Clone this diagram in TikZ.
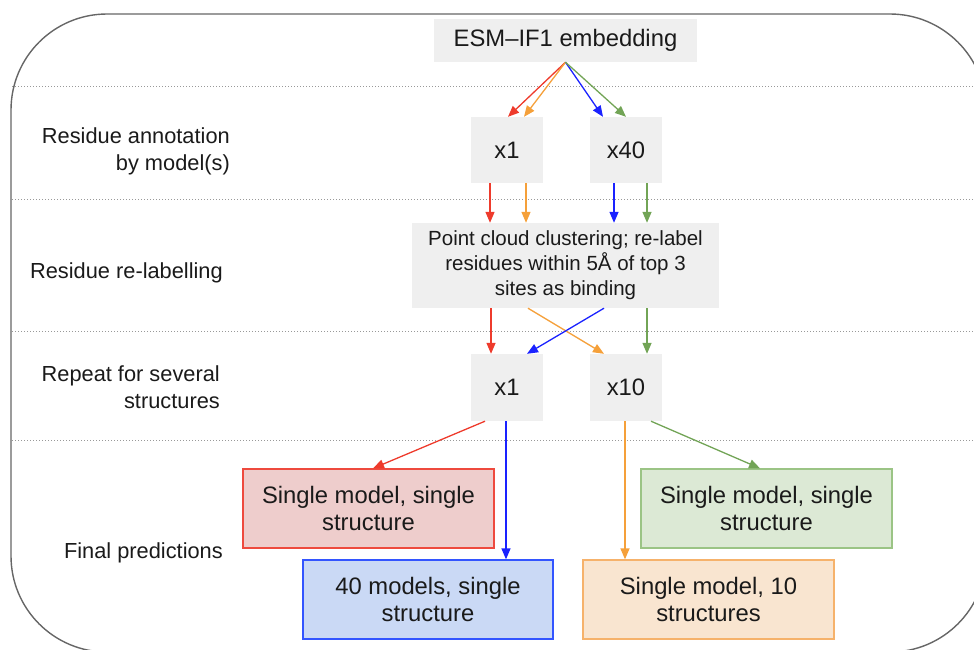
\documentclass[tikz,border=0pt]{standalone}
\usepackage{fontspec}
\setmainfont{Liberation Sans}
\usetikzlibrary{arrows.meta,calc}

\definecolor{boxgray}{HTML}{EFEFEF}
\definecolor{txt}{HTML}{1A1A1A}
\definecolor{frame}{HTML}{666666}
\definecolor{sep}{HTML}{999999}
\definecolor{redln}{HTML}{EE3B2C}
\definecolor{orgln}{HTML}{F5A03A}
\definecolor{bluln}{HTML}{1A22FF}
\definecolor{grnln}{HTML}{72A456}
\definecolor{redfill}{HTML}{EECDCC}
\definecolor{redbd}{HTML}{EE4A3E}
\definecolor{blufill}{HTML}{CAD9F5}
\definecolor{blubd}{HTML}{3355FF}
\definecolor{grnfill}{HTML}{DCE9D5}
\definecolor{grnbd}{HTML}{9BC485}
\definecolor{orgfill}{HTML}{F9E5D0}
\definecolor{orgbd}{HTML}{F6B26B}

\tikzset{
  graybox/.style={fill=boxgray, inner sep=0pt, align=center, text=txt,
    font=\fontsize{23.8}{26.5}\selectfont},
  resbox/.style={draw, line width=1.3pt, inner sep=0pt, align=center, text=txt,
    minimum width=251pt, minimum height=79pt, font=\fontsize{23.8}{26.5}\selectfont},
  sidelabel/.style={anchor=east, align=right, inner sep=0pt, text=txt,
    font=\fontsize{21.8}{27}\selectfont},
  conn/.style={line width=1.3pt, -{Triangle[length=11pt,width=9pt]}},
  sepline/.style={sep, line width=1pt, dash pattern=on 1pt off 2pt},
}

\begin{document}
\begin{tikzpicture}[x=1pt, y=-1pt]
  \useasboundingbox (0,0) rectangle (974,649);

  % outer frame, partly cut off at the right and bottom
  \begin{scope}
    \clip (0,0) rectangle (974,649);
    \draw[frame, line width=1.4pt, rounded corners=96pt] (11,14) rectangle (986,652);
  \end{scope}

  % row separators
  \foreach \yy in {86,199,331,440}
    \draw[sepline] (12,\yy) -- (974,\yy);

  % stage labels
  \node[sidelabel] (l1) at (230,151.5) {Residue annotation\\by model(s)};
  \node[sidelabel] (l2) at (223,273) {Residue re-labelling};
  \node[sidelabel] (l3) at (220,387.5) {Repeat for several\\structures};
  \node[sidelabel] (l4) at (223,553) {Final predictions};

  % gray process boxes
  \node[graybox, minimum width=263pt, minimum height=43pt] (esm) at (565.5,40.5) {ESM--IF1 embedding};
  \node[graybox, minimum width=72pt, minimum height=66pt] (x1) at (507,150) {x1};
  \node[graybox, minimum width=72pt, minimum height=66pt] (x40) at (626,150) {x40};
  \node[graybox, minimum width=307pt, minimum height=85pt,
        font=\fontsize{20.5}{25}\selectfont] (rl) at (565.5,265.5)
        {Point cloud clustering; re-label\\residues within 5Å of top 3\\sites as binding};
  \node[graybox, minimum width=72pt, minimum height=67pt] (y1) at (507,387.5) {x1};
  \node[graybox, minimum width=72pt, minimum height=67pt] (y10) at (626,387.5) {x10};

  % final prediction boxes
  \node[resbox, draw=redbd, fill=redfill] (rbox) at (368.5,508.5) {Single model, single\\structure};
  \node[resbox, draw=grnbd, fill=grnfill] (gbox) at (766.5,508.5) {Single model, single\\structure};
  \node[resbox, draw=blubd, fill=blufill, minimum width=250pt] (bbox) at (428,599.5) {40 models, single\\structure};
  \node[resbox, draw=orgbd, fill=orgfill] (obox) at (708.5,599.5) {Single model, 10\\structures};

  % embedding -> annotation
  \draw[conn, redln] (esm.south) -- ([xshift=1pt]x1.north);
  \draw[conn, orgln] (esm.south) -- ([xshift=17pt]x1.north);
  \draw[conn, bluln] (esm.south) -- ([xshift=-23pt]x40.north);
  \draw[conn, grnln] (esm.south) -- (x40.north);

  % annotation -> re-labelling
  \draw[conn, redln] ([xshift=-17pt]x1.south) -- ([xshift=-17pt]x1.south |- rl.north);
  \draw[conn, orgln] ([xshift=19pt]x1.south) -- ([xshift=19pt]x1.south |- rl.north);
  \draw[conn, bluln] ([xshift=-12pt]x40.south) -- ([xshift=-12pt]x40.south |- rl.north);
  \draw[conn, grnln] ([xshift=21pt]x40.south) -- ([xshift=21pt]x40.south |- rl.north);

  % re-labelling -> structures
  \draw[conn, redln] ([xshift=-16pt]y1.north |- rl.south) -- ([xshift=-16pt]y1.north);
  \draw[conn, orgln] ([xshift=-37.5pt]rl.south) -- ([xshift=-22pt]y10.north);
  \draw[conn, bluln] ([xshift=38.5pt]rl.south) -- ([xshift=20pt]y1.north);
  \draw[conn, grnln] ([xshift=21pt]y10.north |- rl.south) -- ([xshift=21pt]y10.north);

  % structures -> final predictions
  \draw[conn, redln] ([xshift=-22pt]y1.south) -- ([xshift=4.5pt]rbox.north);
  \draw[conn, bluln] ([xshift=-1pt]y1.south) -- ([xshift=-1pt]y1.south |- bbox.north);
  \draw[conn, orgln] ([xshift=-1pt]y10.south) -- ([xshift=-1pt]y10.south |- obox.north);
  \draw[conn, grnln] ([xshift=25pt]y10.south) -- ([xshift=-6.5pt]gbox.north);
\end{tikzpicture}
\end{document}
